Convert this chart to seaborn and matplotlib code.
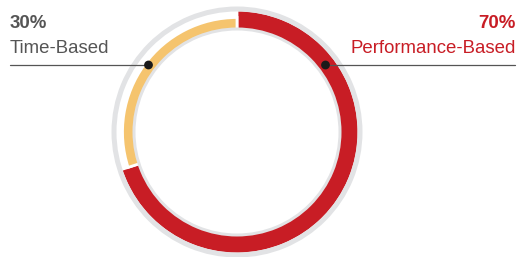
import seaborn as sns
import matplotlib.pyplot as plt
import numpy as np
import pandas as pd

categories = ['Performance-Based', 'Time-Based']
shares = [70, 30]
labels = ['70%', '30%']
colors = ['#c81d25', '#f5c46e']

sns.set_theme(style='white')
plt.rcParams['font.family'] = ['Liberation Sans', 'DejaVu Sans']

fig = plt.figure(figsize=(5.21, 2.57), dpi=100)
ax = fig.add_axes([0, 0, 1, 1])

center = (237, 125)

# red segment (thick) and yellow segment (thin)
red, _ = ax.pie(shares, colors=colors, radius=122, center=center,
                startangle=90, counterclock=False,
                wedgeprops=dict(width=20, edgecolor='white', linewidth=2))
red[1].set_visible(False)
yel, _ = ax.pie(shares, colors=colors, radius=114.5, center=center,
                startangle=90, counterclock=False,
                wedgeprops=dict(width=12.5, edgecolor='white', linewidth=2))
yel[0].set_visible(False)

# light gray rims on top
ax.pie([1], colors=['#e2e3e5'], radius=125.5, center=center,
       wedgeprops=dict(width=5, linewidth=0))
ax.pie([1], colors=['#e2e3e5'], radius=104.5, center=center,
       wedgeprops=dict(width=3, linewidth=0))

# leader lines and dots
line_y = 192
r_dot = 111
dx = np.sqrt(r_dot**2 - (line_y - center[1])**2)
dots = pd.DataFrame({'x': [center[0] + dx, center[0] - dx], 'y': [line_y, line_y]})
ax.plot([center[0] + dx, 515], [line_y, line_y], color='#555555', lw=0.9)
ax.plot([10, center[0] - dx], [line_y, line_y], color='#555555', lw=0.9)
sns.scatterplot(data=dots, x='x', y='y', ax=ax, color='#1a1a1a', s=40,
                edgecolor='none', zorder=5)
ax.set_xlim(0, 521)
ax.set_ylim(0, 257)
ax.set_aspect('equal')
ax.axis('off')

# labels
ax.text(516, 229, labels[0], ha='right', va='baseline', fontsize=13.4,
        fontweight='bold', color=colors[0])
ax.text(516, 204, categories[0], ha='right', va='baseline', fontsize=13.4,
        color=colors[0])
ax.text(10, 229, labels[1], ha='left', va='baseline', fontsize=13.4,
        fontweight='bold', color='#555555')
ax.text(10, 204, categories[1], ha='left', va='baseline', fontsize=13.4,
        color='#555555')

plt.savefig('out.png', dpi=100)
